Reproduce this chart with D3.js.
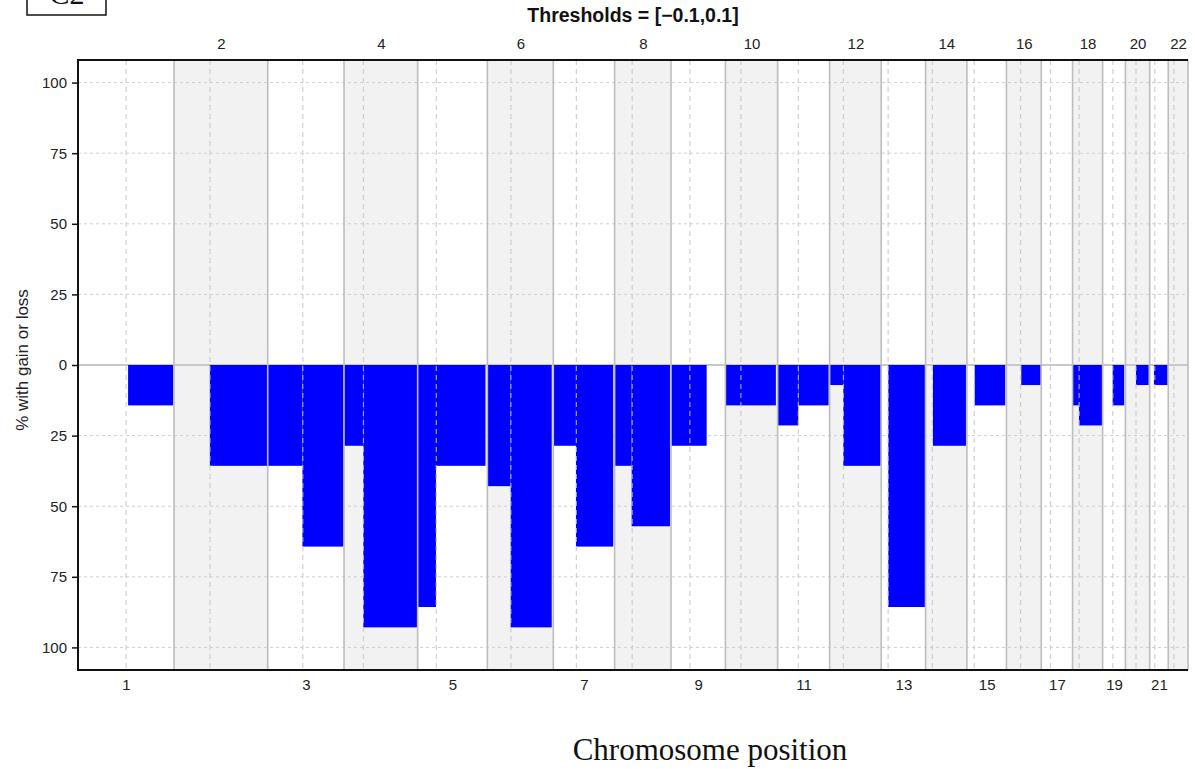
<!DOCTYPE html>
<html>
<head>
<meta charset="utf-8">
<script src="https://cdn.jsdelivr.net/npm/d3@7"></script>
<style>
  html, body { margin: 0; padding: 0; background: #fff; }
  svg { display: block; }
</style>
</head>
<body>
<svg id="chart" width="1195" height="769"></svg>
<script>
// ---- Data ----
const chromosomes = ["1","2","3","4","5","6","7","8","9","10","11","12","13","14","15","16","17","18","19","20","21","22"];
const chromLengthsMb = [249.25,243.20,198.02,191.15,180.92,171.12,159.14,146.36,141.21,135.53,135.01,133.85,115.17,107.35,102.53,90.35,81.20,78.08,59.13,63.03,48.13,51.30];
const centromeresMb = [125.0,93.3,91.0,50.4,48.4,61.0,59.9,45.6,49.0,40.2,53.7,35.8,17.9,17.6,19.0,36.6,24.0,17.2,26.5,27.5,13.2,14.7];

// loss segments (chromosome, start Mb, end Mb, % of samples with loss)
const segChrom   = ["1","2","3","3","4","4","5","5","6","6","7","7","8","8","9","10","11","11","12","12","13","14","15","16","18","18","19","20","21"];
const segStartMb = [130,93,0,90,0,50,0,47.5,0,60.5,0,58.8,0,44.2,0,0,0,53.6,0,35.4,18.3,19.1,20,38.4,0,16.6,26,27.4,11];
const segEndMb   = [247,242,90,197,50,190,47.5,176,60.5,167,58.8,155.6,44.2,143.7,92.5,131,53.6,132.4,35.4,132.4,113.5,104.8,99.4,88.8,16.6,77.1,56.1,60.3,46.6];
const segLossPct = [14.3,35.7,35.7,64.3,28.6,92.9,85.7,35.7,42.9,92.9,28.6,64.3,35.7,57.1,28.6,14.3,21.4,14.3,7.1,35.7,85.7,28.6,14.3,7.1,14.3,21.4,14.3,7.1,7.1];

const yTickValues = [100,75,50,25,0,-25,-50,-75,-100];
const titleText = "Thresholds = [\u22120.1,0.1]";
const yLabelText = "% with gain or loss";
const xLabelText = "Chromosome position";
const panelLabel = "C2";

// ---- Layout ----
const svg = d3.select("#chart");
const L = 78, R = 1188, T = 60, B = 670;

const cumStart = [];
let acc = 0;
chromLengthsMb.forEach(l => { cumStart.push(acc); acc += l; });
const genomeLen = acc;
const idx = c => chromosomes.indexOf(c);

const x = d3.scaleLinear().domain([0, genomeLen]).range([L, R]);
const y = d3.scaleLinear().domain([108, -108]).range([T, B]);

const chromData = chromosomes.map((c, i) => ({
  name: c, i, start: cumStart[i], end: cumStart[i] + chromLengthsMb[i],
  mid: cumStart[i] + chromLengthsMb[i] / 2, cen: cumStart[i] + centromeresMb[i]
}));

// shading of even chromosomes
svg.append("g").selectAll("rect").data(chromData.filter(d => d.i % 2 === 1)).join("rect")
  .attr("x", d => x(d.start)).attr("width", d => x(d.end) - x(d.start))
  .attr("y", T).attr("height", B - T).attr("fill", "#f2f2f2");

// horizontal dashed grid
svg.append("g").selectAll("line").data(yTickValues.filter(v => v !== 0)).join("line")
  .attr("x1", L).attr("x2", R).attr("y1", d => y(d)).attr("y2", d => y(d))
  .attr("stroke", "#d0d0d0").attr("stroke-width", 1).attr("stroke-dasharray", "3,3");

// zero line
svg.append("line").attr("x1", L).attr("x2", R).attr("y1", y(0)).attr("y2", y(0))
  .attr("stroke", "#c8c8c8").attr("stroke-width", 2);

// bars
const segs = segChrom.map((c, k) => ({
  s: cumStart[idx(c)] + segStartMb[k], e: cumStart[idx(c)] + segEndMb[k], v: segLossPct[k]
}));
svg.append("g").selectAll("rect").data(segs).join("rect")
  .attr("x", d => x(d.s)).attr("width", d => x(d.e) - x(d.s))
  .attr("y", y(0)).attr("height", d => y(-d.v) - y(0))
  .attr("fill", "#0000ff");

// centromere dashed lines
svg.append("g").selectAll("line").data(chromData).join("line")
  .attr("x1", d => x(d.cen)).attr("x2", d => x(d.cen)).attr("y1", T).attr("y2", B)
  .attr("stroke", "#c4c4c4").attr("stroke-opacity", 0.8).attr("stroke-width", 1.2)
  .attr("stroke-dasharray", "5,4");

// chromosome boundaries
svg.append("g").selectAll("line").data(chromData).join("line")
  .attr("x1", d => x(d.end)).attr("x2", d => x(d.end)).attr("y1", T).attr("y2", B)
  .attr("stroke", "#bdbdbd").attr("stroke-width", 1.6);

// frame (left, top, bottom)
svg.append("path").attr("d", `M${R},${T}H${L}V${B}H${R}`)
  .attr("fill", "none").attr("stroke", "#111").attr("stroke-width", 2);

// y axis
const yAxis = d3.axisLeft(y).tickValues(yTickValues).tickSize(6).tickPadding(5)
  .tickFormat(d => Math.abs(d));
const gy = svg.append("g").attr("transform", `translate(${L},0)`).call(yAxis);
gy.select(".domain").remove();
gy.selectAll(".tick line").attr("stroke", "#111").attr("stroke-width", 1.5);
gy.selectAll(".tick text").attr("font-family", "Liberation Sans, Arial, sans-serif")
  .attr("font-size", 15).attr("fill", "#222");

// top axis (even chromosomes)
const topAxis = d3.axisTop(x).tickValues(chromData.filter(d => d.i % 2 === 1).map(d => d.mid))
  .tickSize(0).tickPadding(11)
  .tickFormat(v => chromData.find(d => Math.abs(d.mid - v) < 1e-6).name);
const gt = svg.append("g").attr("transform", `translate(0,${T})`).call(topAxis);
gt.select(".domain").remove();
gt.selectAll(".tick text").attr("font-family", "Liberation Sans, Arial, sans-serif")
  .attr("font-size", 15).attr("fill", "#222");

// bottom axis (odd chromosomes)
const botAxis = d3.axisBottom(x).tickValues(chromData.filter(d => d.i % 2 === 0).map(d => d.mid))
  .tickSize(0).tickPadding(9)
  .tickFormat(v => chromData.find(d => Math.abs(d.mid - v) < 1e-6).name);
const gb = svg.append("g").attr("transform", `translate(0,${B})`).call(botAxis);
gb.select(".domain").remove();
gb.selectAll(".tick text").attr("font-family", "Liberation Sans, Arial, sans-serif")
  .attr("font-size", 15).attr("fill", "#222");

// title
svg.append("text").attr("x", (L + R) / 2).attr("y", 22).attr("text-anchor", "middle")
  .attr("font-family", "Liberation Sans, Arial, sans-serif").attr("font-weight", "bold")
  .attr("font-size", 19.5).attr("fill", "#111").text(titleText);

// y label
svg.append("text").attr("transform", `translate(28,${(T + B) / 2 - 5}) rotate(-90)`)
  .attr("text-anchor", "middle").attr("font-family", "Liberation Sans, Arial, sans-serif")
  .attr("font-size", 17).attr("fill", "#222").text(yLabelText);

// x label
svg.append("text").attr("x", 710).attr("y", 760).attr("text-anchor", "middle")
  .attr("font-family", "Liberation Serif, Times New Roman, serif")
  .attr("font-size", 31).attr("fill", "#111").text(xLabelText);

// panel label box
svg.append("rect").attr("x", 27).attr("y", -30).attr("width", 79).attr("height", 45)
  .attr("fill", "none").attr("stroke", "#111").attr("stroke-width", 1.5);
svg.append("text").attr("x", 67).attr("y", 4).attr("text-anchor", "middle")
  .attr("font-family", "Liberation Serif, Times New Roman, serif")
  .attr("font-size", 30).attr("fill", "#111").text(panelLabel);
</script>
</body>
</html>
